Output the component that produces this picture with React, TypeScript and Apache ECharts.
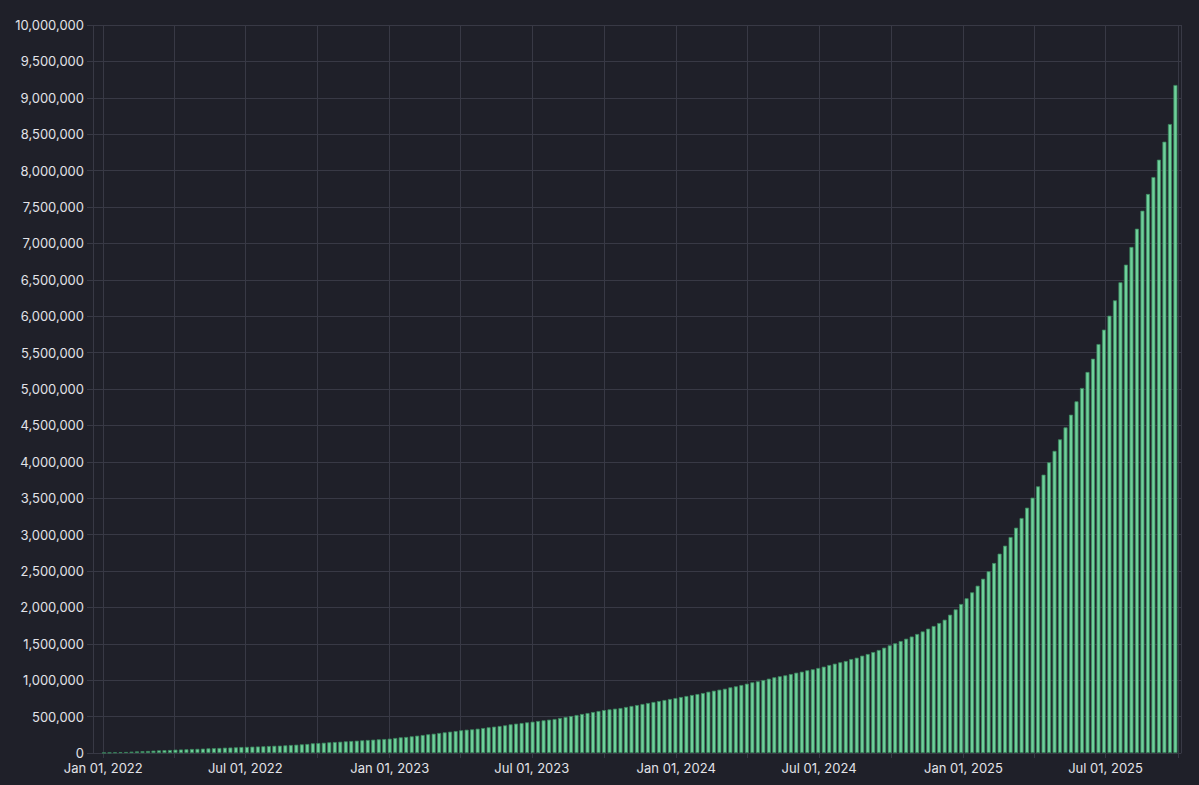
import React, { useEffect, useRef } from "react";
import * as echarts from "echarts";

// Weekly bars (each Sunday), starting Jan 02, 2022 — values in millions
const FIRST_WEEK = "2022-01-02";
const weeklyValuesM: number[] = [
  // 2022 H1 ...
  0.003, 0.005, 0.008, 0.011, 0.014, 0.018, 0.022, 0.025, 0.028, 0.032,
  0.036, 0.039, 0.041, 0.046, 0.048, 0.051, 0.055, 0.057, 0.060, 0.064,
  0.066, 0.069, 0.073, 0.075, 0.078, 0.082, 0.084, 0.087, 0.089, 0.092,
  0.096, 0.099, 0.101, 0.105, 0.110, 0.114, 0.119, 0.124,
  0.133, 0.137, 0.141, 0.147, 0.151, 0.155, 0.160, 0.165, 0.169, 0.174,
  0.179, 0.183, 0.188, 0.192, 0.197, 0.206, 0.215, 0.220, 0.229, 0.238,
  0.247, 0.257, 0.265, 0.275, 0.284, 0.293, 0.302, 0.312, 0.320, 0.325,
  0.334, 0.343, 0.353, 0.362, 0.371, 0.380, 0.394, 0.403, 0.412, 0.421,
  0.430, 0.440, 0.449, 0.458, 0.467, 0.481, 0.495, 0.508, 0.522, 0.536,
  0.549, 0.563, 0.577,
  0.590,
  0.600, 0.609, 0.618, 0.632, 0.646, 0.659, 0.673, 0.687, 0.701, 0.714,
  0.728, 0.742, 0.755, 0.769, 0.783, 0.797, 0.810, 0.824, 0.842, 0.856,
  0.870, 0.883, 0.902, 0.916, 0.934, 0.952, 0.971, 0.985, 1.003, 1.021,
  1.040, 1.054, 1.067, 1.085, 1.103, 1.117, 1.136, 1.150, 1.168, 1.186,
  1.209, 1.227, 1.246, 1.264, 1.291, 1.309, 1.337, 1.360, 1.387, 1.415,
  1.447, 1.479, 1.507, 1.538, 1.570,
  1.600, 1.635, 1.670,
  1.708, 1.745, 1.786, 1.831, 1.900, 1.973, 2.047, 2.125, 2.207, 2.298,
  2.394, 2.496, 2.610, 2.738, 2.848, 2.967, 3.095, 3.228, 3.370, 3.507,
  3.663, 3.823, 3.993,
  4.150,
  4.309, 4.473, 4.647, 4.831, 5.014, 5.234, 5.416, 5.618, 5.815, 6.007,
  6.218, 6.466, 6.708, 6.951, 7.202, 7.449, 7.679, 7.912, 8.150, 8.397,
  8.640, 9.176,
];

const X_MIN = "2021-12-21T12:00:00Z";
const X_MAX = "2025-10-02T14:00:00Z";
const Y_MAX = 10000000;
const Y_STEP = 500000;
const MONTHS = ["Jan", "Feb", "Mar", "Apr", "May", "Jun", "Jul", "Aug", "Sep", "Oct", "Nov", "Dec"];

const DAY = 86400000;

export default function App() {
  const ref = useRef<HTMLDivElement>(null);
  useEffect(() => {
    if (!ref.current) return;
    const chart = echarts.init(ref.current, null, { renderer: "svg" });
    const start = Date.parse(FIRST_WEEK + "T00:00:00Z");
    const data = weeklyValuesM.map((v, i) => [start + i * 7 * DAY, Math.round(v * 1e6)]);
    const textColor = "#e2e3e8";
    const gridColor = "#383945";
    const font = "Inter, 'Noto Sans', sans-serif";
    chart.setOption({
      animation: false,
      useUTC: true,
      backgroundColor: "#1f2029",
      grid: { left: 93, right: 18, top: 25, bottom: 32 },
      xAxis: {
        type: "time",
        min: Date.parse(X_MIN),
        max: Date.parse(X_MAX),
        splitNumber: 15,
        minInterval: 91 * DAY,
        maxInterval: 92 * DAY,
        axisLine: { show: true, lineStyle: { color: gridColor } },
        axisTick: { show: true, length: 5, lineStyle: { color: gridColor } },
        splitLine: { show: true, lineStyle: { color: gridColor, width: 1 } },
        axisLabel: {
          color: textColor,
          fontSize: 13,
          fontFamily: font,
          margin: 8,
          hideOverlap: false,
          formatter: (val: number) => {
            const d = new Date(val);
            const m = d.getUTCMonth();
            if (d.getUTCDate() !== 1 || d.getUTCHours() !== 0) return "";
            if (m !== 0 && m !== 6) return "";
            return `${MONTHS[m]} 01, ${d.getUTCFullYear()}`;
          },
        },
      },
      yAxis: {
        type: "value",
        min: 0,
        max: Y_MAX,
        interval: Y_STEP,
        axisLine: { show: false },
        axisTick: { show: true, length: 6, lineStyle: { color: gridColor } },
        splitLine: { show: true, lineStyle: { color: gridColor, width: 1 } },
        axisLabel: {
          color: textColor,
          fontSize: 13,
          fontFamily: font,
          margin: 9,
          formatter: (v: number) => v.toLocaleString("en-US"),
        },
      },
      series: [
        {
          type: "bar",
          data,
          barWidth: 4,
          itemStyle: { color: "#6fd09b", borderColor: "#3b8a60", borderWidth: 0.8 },
        },
      ],
    });
    return () => chart.dispose();
  }, []);
  return (
    <div
      ref={ref}
      style={{ position: "fixed", left: 0, top: 0, width: 1199, height: 785 }}
    />
  );
}
